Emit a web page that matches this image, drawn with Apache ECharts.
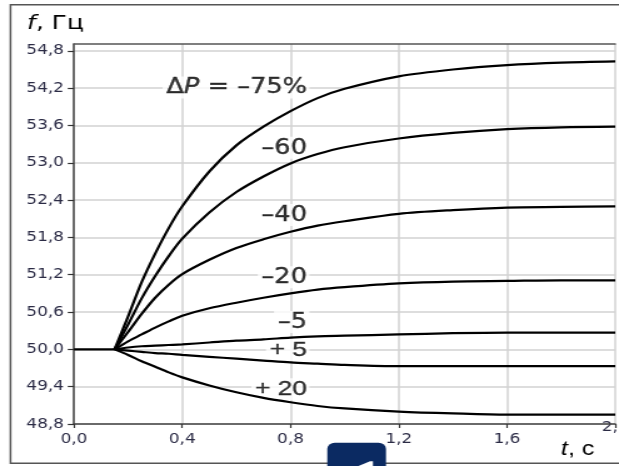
<!DOCTYPE html>
<html>
<head>
<meta charset="utf-8">
<script src="https://cdn.jsdelivr.net/npm/echarts@6/dist/echarts.min.js"></script>
<style>
  html, body { margin: 0; padding: 0; background: #fff; overflow: hidden; }
  #wrap { width: 619px; height: 466px; overflow: hidden; position: relative; }
  /* the figure is laid out on a narrower canvas and widened horizontally */
  #chart { width: 495px; height: 466px; transform: scaleX(1.2505); transform-origin: 0 0; }
</style>
</head>
<body>
<div id="wrap"><div id="chart"></div></div>
<script>
// time, s
const times = [0, 0.15, 0.2, 0.25, 0.3, 0.35, 0.4, 0.5, 0.6, 0.7, 0.8, 0.9, 1.0, 1.2, 1.4, 1.6, 1.8, 2.0];

// frequency response, Hz, for each load change ΔP
const fMinus75 = [50, 50, 50.53, 51.08, 51.54, 51.95, 52.30, 52.86, 53.28, 53.58, 53.83, 54.04, 54.19, 54.39, 54.50, 54.57, 54.61, 54.63];
const fMinus60 = [50, 50, 50.40, 50.82, 51.18, 51.50, 51.78, 52.20, 52.53, 52.78, 52.99, 53.14, 53.25, 53.39, 53.48, 53.54, 53.57, 53.58];
const fMinus40 = [50, 50, 50.28, 50.57, 50.83, 51.04, 51.21, 51.44, 51.63, 51.77, 51.89, 51.99, 52.06, 52.18, 52.24, 52.28, 52.29, 52.30];
const fMinus20 = [50, 50, 50.13, 50.24, 50.35, 50.45, 50.54, 50.66, 50.75, 50.83, 50.90, 50.96, 51.00, 51.06, 51.09, 51.10, 51.11, 51.11];
const fMinus5  = [50, 50, 50.03, 50.05, 50.06, 50.07, 50.08, 50.11, 50.14, 50.16, 50.19, 50.21, 50.22, 50.24, 50.26, 50.27, 50.27, 50.27];
const fPlus5   = [50, 50, 49.98, 49.96, 49.94, 49.93, 49.91, 49.88, 49.85, 49.82, 49.79, 49.77, 49.75, 49.73, 49.73, 49.73, 49.73, 49.73];
const fPlus20  = [50, 50, 49.91, 49.81, 49.72, 49.63, 49.55, 49.42, 49.31, 49.22, 49.15, 49.09, 49.05, 49.00, 48.97, 48.95, 48.95, 48.95];

// curve captions: where they sit (t, f) and what they say
const captionT = [0.87, 0.87, 0.87, 0.87, 0.87, 0.87, 0.87];
const captionF = [54.21, 53.24, 52.16, 51.16, 50.44, 49.99, 49.36];
const captionText = ['{d|Δ}{i|P}{d| = –75%}', '{d|–60}', '{d|–40}', '{d|–20}', '{d|–5}', '{a|+ 5}', '{a|+ 20}'];

// axis ticks
const yTicks = [48.8, 49.4, 50.0, 50.6, 51.2, 51.8, 52.4, 53.0, 53.6, 54.2, 54.8];

const SX = 619 / 495;            // horizontal widening of the canvas
const px = v => v / SX;          // screen x -> canvas x

const fmt = v => v.toFixed(1).replace('.', ',');
const pairs = (arr, from, to) => times.slice(from, to).map((t, i) => [t, arr[from + i]]);

const curves = [fMinus75, fMinus60, fMinus40, fMinus20, fMinus5, fPlus5, fPlus20];

const tickFont = { fontFamily: 'DejaVu Sans', fontSize: 13.5, color: '#2b2b45' };
const gridLine = { lineStyle: { color: '#d2d2d2', width: 1.5 } };
const curveLine = { color: '#000', width: 2.2 };
const heavy = { textBorderColor: '#000', textBorderWidth: 0.35 };

const chart = echarts.init(document.getElementById('chart'), null, { renderer: 'canvas' });

// steady part before the disturbance (shared by all curves)
const steady = {
  type: 'line', data: pairs(fMinus75, 0, 2), showSymbol: false, z: 3, lineStyle: curveLine
};
// transient part of each curve
const transients = curves.map(c => ({
  type: 'line', data: pairs(c, 1, times.length), showSymbol: false, z: 3,
  smooth: 0.3, lineStyle: curveLine
}));

chart.setOption({
  animation: false,
  backgroundColor: '#fff',
  grid: { left: px(74), right: 495 - px(615.3), top: 44, bottom: 466 - 424 },
  xAxis: [{
    type: 'value', min: 0, max: 2, interval: 0.4,
    axisLine: { show: true, lineStyle: { color: '#444', width: 1.5 } },
    axisTick: { show: true, length: 4, lineStyle: { color: '#333', width: 1.2 } },
    axisLabel: Object.assign({ margin: 8, formatter: v => (v >= 2 ? '' : fmt(v)) }, tickFont),
    splitLine: Object.assign({ show: true }, gridLine)
  }, {
    type: 'value', position: 'top', min: 0, max: 2,
    axisLine: { show: true, lineStyle: { color: '#555', width: 1.5 } },
    axisTick: { show: false }, axisLabel: { show: false }, splitLine: { show: false }
  }],
  yAxis: {
    type: 'value', min: 48.8, max: 54.91,
    axisLine: { show: true, lineStyle: { color: '#444', width: 1.5 } },
    axisTick: { show: true, length: 5, customValues: yTicks, lineStyle: { color: '#333', width: 1.2 } },
    axisLabel: Object.assign({ margin: px(10), customValues: yTicks, formatter: v => fmt(v) }, tickFont),
    splitLine: Object.assign({ show: true }, gridLine)
  },
  series: [steady].concat(transients, [{
    type: 'scatter', z: 2, symbolSize: 0, silent: true,
    data: captionT.map((t, i) => ({ value: [t, captionF[i]], caption: captionText[i] })),
    label: {
      show: true, position: 'inside', align: 'right', verticalAlign: 'middle',
      formatter: p => p.data.caption,
      backgroundColor: '#fff', padding: [1, 2, 0, 3],
      rich: {
        d: Object.assign({ fontFamily: 'DejaVu Sans', fontSize: 20.5, color: '#000' }, heavy),
        i: Object.assign({ fontFamily: 'DejaVu Sans', fontSize: 20.5, fontStyle: 'italic', color: '#000' }, heavy),
        a: Object.assign({ fontFamily: 'Liberation Sans, Arial', fontSize: 21, color: '#000' }, heavy)
      }
    }
  }])
});

const x2 = chart.convertToPixel({ xAxisIndex: 0 }, 2);

chart.setOption({
  graphic: [
    { // outer frame
      type: 'rect', silent: true, z: 0,
      shape: { x: px(10.5), y: 4.7, width: 700, height: 458.6 },
      style: { fill: 'none', stroke: '#555', lineWidth: 1.5 }
    },
    { // frequency axis title
      type: 'text', silent: true, x: px(27), y: 14,
      style: {
        text: '{i|f}{n|, Гц}', verticalAlign: 'top',
        rich: {
          n: { fontFamily: 'DejaVu Sans', fontSize: 20, fill: '#000' },
          i: { fontFamily: 'DejaVu Sans', fontSize: 20, fontStyle: 'italic', fill: '#000' }
        }
      }
    },
    { // time axis title
      type: 'text', silent: true, x: px(561), y: 439,
      style: {
        text: '{i|t}{n|, с}', verticalAlign: 'top',
        rich: {
          n: { fontFamily: 'Liberation Sans, Arial', fontSize: 20, fill: '#000' },
          i: { fontFamily: 'Liberation Sans, Arial', fontSize: 20, fontStyle: 'italic', fill: '#000' }
        }
      }
    },
    { // last time tick label, raised beside the axis title
      type: 'text', silent: true, x: x2, y: 420,
      style: { text: fmt(2), align: 'center', verticalAlign: 'top', font: '13.5px "DejaVu Sans"', fill: '#2b2b45' }
    },
    { // badge at the lower edge
      type: 'rect', silent: true, z: 10,
      shape: { x: px(327.3), y: 442.7, width: px(386) - px(327.3), height: 40, r: 6 },
      style: { fill: '#0b2a62' }
    },
    {
      type: 'polygon', silent: true, z: 11,
      shape: { points: [[px(356), 467], [px(370), 461.3], [px(373), 461.3], [px(373), 467]] },
      style: { fill: '#fff' }
    }
  ]
});
</script>
</body>
</html>
